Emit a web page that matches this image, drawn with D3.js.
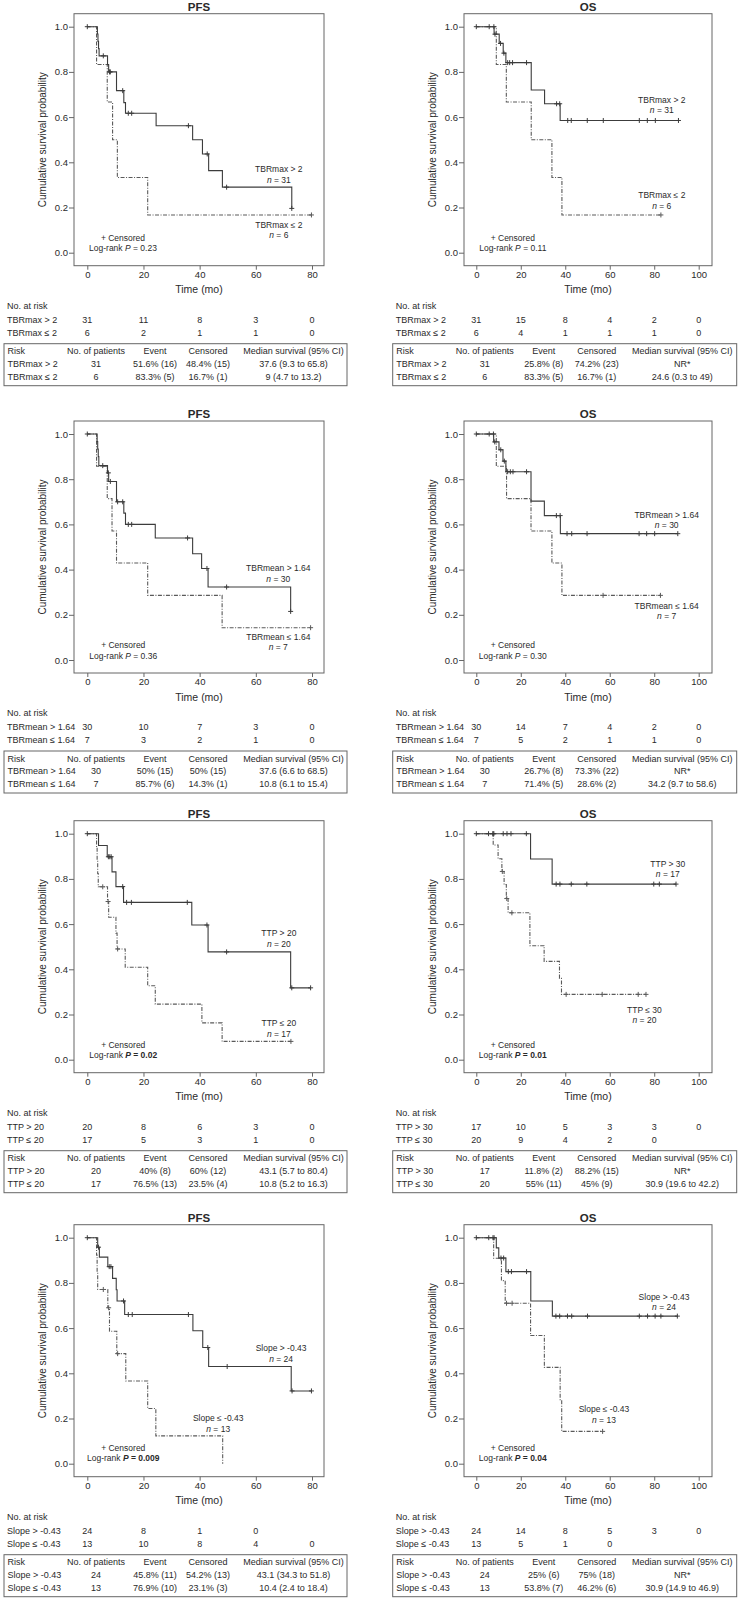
<!DOCTYPE html>
<html><head><meta charset="utf-8">
<script src="https://cdn.jsdelivr.net/npm/d3@7"></script>
<style>
body{margin:0;background:#fff}
svg{display:block}
text{font-family:"Liberation Sans",Arial,sans-serif;fill:#2a2a2a}
</style>
</head><body><svg id="c" width="740" height="1599"></svg>
<script>
// ---------------- DATA ----------------
const timesLeft = [0, 20, 40, 60, 80];
const timesRight = [0, 20, 40, 60, 80, 100];
const yTicks = [0, 0.2, 0.4, 0.6, 0.8, 1.0];
const panelTitles = ["PFS", "OS", "PFS", "OS", "PFS", "OS", "PFS", "OS"];
const groupHigh = ["TBRmax > 2", "TBRmax > 2", "TBRmean > 1.64", "TBRmean > 1.64", "TTP > 20", "TTP > 30", "Slope > -0.43", "Slope > -0.43"];
const groupLow = ["TBRmax \u2264 2", "TBRmax \u2264 2", "TBRmean \u2264 1.64", "TBRmean \u2264 1.64", "TTP \u2264 20", "TTP \u2264 30", "Slope \u2264 -0.43", "Slope \u2264 -0.43"];
const nHigh = [31, 31, 30, 30, 20, 17, 24, 24];
const nLow = [6, 6, 7, 7, 17, 20, 13, 13];
const pValues = ["0.23", "0.11", "0.36", "0.30", "0.02", "0.01", "0.009", "0.04"];
const pBold = [false, false, false, false, true, true, true, true];

// Kaplan-Meier steps: [time (mo), survival after event]; censored times (mo)
const p1HighSteps = [[3.6,0.968],[3.8,0.935],[4.0,0.903],[4.2,0.871],[7.2,0.833],[7.6,0.80],[10.4,0.717],[13.0,0.664],[13.6,0.617],[24.5,0.562],[37.5,0.50],[41.0,0.437],[43.2,0.363],[48.1,0.29],[72.8,0.196]];
const p1HighCensor = [0, 5.7, 7.9, 8.2, 12.6, 14.6, 15.8, 36.0, 42.7, 49.6, 72.8];
const p1LowSteps = [[3.3,0.833],[7.1,0.667],[9.0,0.5],[10.7,0.333],[21.5,0.167]];
const p1LowCensor = [79.8];

const p2HighSteps = [[8.0,0.967],[10.3,0.926],[12.1,0.883],[13.3,0.841],[24.7,0.72],[30.7,0.659],[37.7,0.585]];
const p2HighCensor = [0, 5.8, 7.9, 8.4, 10.9, 12.4, 14.1, 15.0, 16.3, 22.6, 36.1, 37.5, 41.1, 42.7, 49.9, 57.1, 73.3, 76.9, 80.5, 90.9];
const p2LowSteps = [[9.0,0.833],[13.5,0.667],[24.7,0.5],[34.0,0.333],[38.5,0.167]];
const p2LowCensor = [83.0];

const p3HighSteps = [[3.5,0.967],[3.7,0.933],[3.9,0.90],[4.1,0.86],[7.2,0.828],[7.6,0.79],[10.4,0.70],[13.0,0.65],[13.6,0.60],[24.2,0.54],[37.5,0.47],[40.7,0.405],[43.0,0.323],[72.4,0.215]];
const p3HighCensor = [0, 5.5, 7.5, 8.2, 10.8, 12.6, 14.6, 15.8, 35.7, 42.6, 49.6, 72.4];
const p3LowSteps = [[3.3,0.857],[7.1,0.714],[8.8,0.571],[10.4,0.429],[21.5,0.286],[48.0,0.143]];
const p3LowCensor = [79.5];

const p4HighSteps = [[7.8,0.965],[10.2,0.93],[12.0,0.88],[13.3,0.833],[24.6,0.703],[30.6,0.639],[37.8,0.559]];
const p4HighCensor = [0, 5.8, 7.7, 8.3, 11.0, 12.6, 14.1, 15.3, 16.5, 22.6, 36.0, 37.7, 40.8, 42.9, 49.8, 73.2, 76.6, 80.2, 90.6];
const p4LowSteps = [[9.0,0.857],[13.6,0.714],[24.6,0.571],[34.0,0.429],[38.5,0.286]];
const p4LowCensor = [57.0, 82.8];

const p5HighSteps = [[4.0,0.948],[7.1,0.898],[8.8,0.831],[10.2,0.766],[12.9,0.696],[37.2,0.596],[43.0,0.477],[72.4,0.318]];
const p5HighCensor = [0, 7.5, 8.0, 8.5, 12.6, 14.0, 15.7, 35.6, 42.6, 49.6, 72.8, 79.5];
const p5LowSteps = [[3.3,0.941],[3.5,0.882],[3.7,0.824],[3.9,0.765],[7.2,0.70],[7.6,0.63],[10.2,0.56],[10.6,0.49],[13.5,0.409],[21.5,0.327],[24.2,0.246],[40.8,0.163],[48.0,0.081]];
const p5LowCensor = [5.5, 7.4, 10.8, 72.5];

const p6HighSteps = [[24.4,0.888],[34.1,0.777]];
const p6HighCensor = [0, 5.5, 7.5, 7.9, 12.1, 13.8, 15.6, 22.5, 35.9, 37.6, 42.7, 49.7, 79.8, 82.3, 89.8];
const p6LowSteps = [[7.6,0.95],[9.8,0.889],[11.5,0.833],[12.5,0.775],[13.5,0.713],[14.3,0.65],[24.1,0.504],[30.5,0.435],[37.4,0.36],[38.3,0.289]];
const p6LowCensor = [7.5, 11.7, 13.7, 16.0, 40.4, 56.6, 72.8, 76.3];

const p7HighSteps = [[3.7,0.958],[4.3,0.914],[7.3,0.872],[9.0,0.82],[10.3,0.77],[10.6,0.72],[13.3,0.66],[37.6,0.588],[41.1,0.514],[43.2,0.43],[72.6,0.322]];
const p7HighCensor = [0, 4.0, 7.8, 8.4, 12.9, 14.6, 16.0, 36.0, 42.9, 49.8, 72.9, 79.8];
const p7LowSteps = [[3.3,0.923],[3.5,0.846],[3.7,0.771],[7.3,0.69],[7.9,0.586],[10.5,0.487],[13.7,0.366],[21.5,0.244],[24.4,0.123],[48.2,0.0]];
const p7LowCensor = [5.7, 7.6, 10.8];

const p8HighSteps = [[9.0,0.955],[10.1,0.91],[13.3,0.85],[24.5,0.72],[34.2,0.653]];
const p8HighCensor = [0, 5.6, 7.5, 8.0, 11.1, 12.3, 14.4, 15.8, 22.6, 35.8, 37.5, 41.0, 42.9, 50.0, 73.3, 77.0, 80.4, 83.0, 90.4];
const p8LowSteps = [[7.8,0.909],[11.3,0.81],[13.0,0.71],[24.4,0.567],[30.6,0.426],[37.7,0.283],[38.4,0.143]];
const p8LowCensor = [13.6, 16.1, 56.8];

// Numbers at risk
const riskHigh = [[31,11,8,3,0],[31,15,8,4,2,0],[30,10,7,3,0],[30,14,7,4,2,0],[20,8,6,3,0],[17,10,5,3,3,0],[24,8,1,0],[24,14,8,5,3,0]];
const riskLow = [[6,2,1,1,0],[6,4,1,1,1,0],[7,3,2,1,0],[7,5,2,1,1,0],[17,5,3,1,0],[20,9,4,2,0],[13,10,8,4,0],[13,5,1,0]];

// Summary tables
const summaryHeader = ["Risk", "No. of patients", "Event", "Censored", "Median survival (95% CI)"];
const summaryHigh = [
  ["31","51.6% (16)","48.4% (15)","37.6 (9.3 to 65.8)"],
  ["31","25.8% (8)","74.2% (23)","NR*"],
  ["30","50% (15)","50% (15)","37.6 (6.6 to 68.5)"],
  ["30","26.7% (8)","73.3% (22)","NR*"],
  ["20","40% (8)","60% (12)","43.1 (5.7 to 80.4)"],
  ["17","11.8% (2)","88.2% (15)","NR*"],
  ["24","45.8% (11)","54.2% (13)","43.1 (34.3 to 51.8)"],
  ["24","25% (6)","75% (18)","NR*"]
];
const summaryLow = [
  ["6","83.3% (5)","16.7% (1)","9 (4.7 to 13.2)"],
  ["6","83.3% (5)","16.7% (1)","24.6 (0.3 to 49)"],
  ["7","85.7% (6)","14.3% (1)","10.8 (6.1 to 15.4)"],
  ["7","71.4% (5)","28.6% (2)","34.2 (9.7 to 58.6)"],
  ["17","76.5% (13)","23.5% (4)","10.8 (5.2 to 16.3)"],
  ["20","55% (11)","45% (9)","30.9 (19.6 to 42.2)"],
  ["13","76.9% (10)","23.1% (3)","10.4 (2.4 to 18.4)"],
  ["13","53.8% (7)","46.2% (6)","30.9 (14.9 to 46.9)"]
];

// ---------------- LAYOUT ----------------
const highSteps = [p1HighSteps,p2HighSteps,p3HighSteps,p4HighSteps,p5HighSteps,p6HighSteps,p7HighSteps,p8HighSteps];
const highCensor = [p1HighCensor,p2HighCensor,p3HighCensor,p4HighCensor,p5HighCensor,p6HighCensor,p7HighCensor,p8HighCensor];
const lowSteps = [p1LowSteps,p2LowSteps,p3LowSteps,p4LowSteps,p5LowSteps,p6LowSteps,p7LowSteps,p8LowSteps];
const lowCensor = [p1LowCensor,p2LowCensor,p3LowCensor,p4LowCensor,p5LowCensor,p6LowCensor,p7LowCensor,p8LowCensor];

const rowBase = [26.7, 434, 833.7, 1237.7];
const cols = [
  {frameL: 74, frameR: 324, x0: 87.3, x1: 312, xMax: 80, boxL: 4, boxR: 347, ticks: timesLeft},
  {frameL: 464, frameR: 712, x0: 476.3, x1: 698.7, xMax: 100, boxL: 392.7, boxR: 736.7, ticks: timesRight}
];
// label anchor positions in data units [t, S]
const labelPosHigh = [[68.2,0.37],[83.4,0.676],[68.0,0.406],[85.6,0.642],[68.2,0.559],[86.1,0.866],[69.0,0.51],[84.4,0.739]];
const labelPosLow = [[68.2,0.123],[83.4,0.255],[68.0,0.103],[85.6,0.24],[68.2,0.161],[75.6,0.22],[46.6,0.202],[57.4,0.24]];
const censPos = [[12.7,0.065],[16.4,0.066],[12.8,0.066],[16.4,0.066],[12.8,0.065],[16.4,0.065],[12.8,0.07],[16.4,0.07]];

const svg = d3.select("#c");
const SOLID = "#3c3c3c", DASH = "#5a5a5a", FRAME = "#666", TXT = "#2a2a2a";

function txt(g, x, y, s, opts = {}) {
  const t = g.append("text").attr("x", x).attr("y", y).attr("dy", "0.35em")
    .attr("font-size", opts.size || 9).attr("text-anchor", opts.anchor || "middle").text(s);
  if (opts.bold) t.attr("font-weight", "bold");
  return t;
}
function survAt(steps, t) {
  let s = 1;
  for (const [tt, ss] of steps) if (tt <= t) s = ss;
  return s;
}

for (let i = 0; i < 8; i++) {
  const base = rowBase[Math.floor(i / 2)];
  const c = cols[i % 2];
  const g = svg.append("g");
  const x = d3.scaleLinear().domain([0, c.xMax]).range([c.x0, c.x1]);
  const y = d3.scaleLinear().domain([0, 1]).range([base + 226, base]);
  const cx = (c.frameL + c.frameR) / 2;

  // frame
  g.append("rect").attr("x", c.frameL).attr("y", base - 13)
    .attr("width", c.frameR - c.frameL).attr("height", 252)
    .attr("fill", "none").attr("stroke", FRAME).attr("stroke-width", 1);

  // title
  txt(g, cx, base - 19.8, panelTitles[i], {size: 11.5, bold: true});

  // axes
  const ya = g.append("g").attr("transform", `translate(${c.frameL},0)`)
    .call(d3.axisLeft(y).tickValues(yTicks).tickFormat(d3.format(".1f")).tickSize(5).tickPadding(1));
  const xa = g.append("g").attr("transform", `translate(0,${base + 239})`)
    .call(d3.axisBottom(x).tickValues(c.ticks).tickSize(4).tickPadding(1.5));
  [ya, xa].forEach(a => {
    a.select(".domain").remove();
    a.selectAll(".tick line").attr("stroke", FRAME);
    a.selectAll(".tick text").attr("font-size", 9.5).attr("font-family", '"Liberation Sans",Arial,sans-serif').style("fill", TXT);
  });

  txt(g, cx, base + 263, "Time (mo)", {size: 10.5});
  g.append("text").attr("transform", `translate(${c.frameL - 32},${base + 113}) rotate(-90)`)
    .attr("text-anchor", "middle").attr("dy", "0.35em").attr("font-size", 10)
    .text("Cumulative survival probability");

  // curves
  const line = d3.line().x(d => x(d[0])).y(d => y(d[1])).curve(d3.curveStepAfter);
  const groups = [
    {steps: lowSteps[i], cens: lowCensor[i], color: DASH, dash: "4,1.5,1,1.5"},
    {steps: highSteps[i], cens: highCensor[i], color: SOLID, dash: null}
  ];
  groups.forEach(gr => {
    const lastT = Math.max(gr.steps[gr.steps.length - 1][0], d3.max(gr.cens));
    const pts = [[0, 1], ...gr.steps, [lastT, gr.steps[gr.steps.length - 1][1]]];
    const p = g.append("path").attr("d", line(pts)).attr("fill", "none")
      .attr("stroke", gr.color).attr("stroke-width", 1.1);
    if (gr.dash) p.attr("stroke-dasharray", gr.dash);
    g.selectAll(null).data(gr.cens).enter().append("path")
      .attr("d", t => {
        const px = x(t), py = y(survAt(gr.steps, t));
        return `M${px - 2.5},${py}H${px + 2.5}M${px},${py - 2.5}V${py + 2.5}`;
      })
      .attr("stroke", gr.color).attr("stroke-width", 1).attr("fill", "none");
  });

  // group labels
  const lh = labelPosHigh[i], ll = labelPosLow[i];
  txt(g, x(lh[0]), y(lh[1]), groupHigh[i], {size: 8.5});
  const n1 = txt(g, x(lh[0]), y(lh[1]) + 10.5, "", {size: 8.5});
  n1.append("tspan").attr("font-style", "italic").text("n");
  n1.append("tspan").text(" = " + nHigh[i]);
  txt(g, x(ll[0]), y(ll[1]), groupLow[i], {size: 8.5});
  const n2 = txt(g, x(ll[0]), y(ll[1]) + 10.5, "", {size: 8.5});
  n2.append("tspan").attr("font-style", "italic").text("n");
  n2.append("tspan").text(" = " + nLow[i]);

  // censored / log-rank
  const cp = censPos[i];
  txt(g, x(cp[0]), y(cp[1]), "+ Censored", {size: 8.5});
  const lr = txt(g, x(cp[0]), y(cp[1]) + 10.5, "", {size: 8.5});
  lr.append("tspan").text("Log-rank ");
  const pw = pBold[i] ? "bold" : "normal";
  lr.append("tspan").attr("font-style", "italic").attr("font-weight", pw).text("P");
  lr.append("tspan").attr("font-weight", pw).text(" = " + pValues[i]);

  // numbers at risk
  txt(g, c.boxL + 3, base + 279, "No. at risk", {anchor: "start"});
  txt(g, c.boxL + 3, base + 293, groupHigh[i], {anchor: "start"});
  txt(g, c.boxL + 3, base + 306, groupLow[i], {anchor: "start"});
  riskHigh[i].forEach((v, j) => txt(g, x(c.ticks[j]), base + 293, v));
  riskLow[i].forEach((v, j) => txt(g, x(c.ticks[j]), base + 306, v));

  // summary table
  g.append("rect").attr("x", c.boxL).attr("y", base + 317)
    .attr("width", c.boxR - c.boxL).attr("height", 42)
    .attr("fill", "none").attr("stroke", "#666").attr("stroke-width", 1);
  const colX = [c.boxL + 3.5, c.boxL + 92, c.boxL + 151, c.boxL + 204, c.boxL + 289.5];
  const rowsY = [base + 324.5, base + 337.2, base + 349.7];
  const rows = [summaryHeader, [groupHigh[i], ...summaryHigh[i]], [groupLow[i], ...summaryLow[i]]];
  rows.forEach((r, ri) => r.forEach((s, ci) => {
    txt(g, colX[ci], rowsY[ri], s, {anchor: ci === 0 ? "start" : "middle"});
  }));
}
</script></body></html>
